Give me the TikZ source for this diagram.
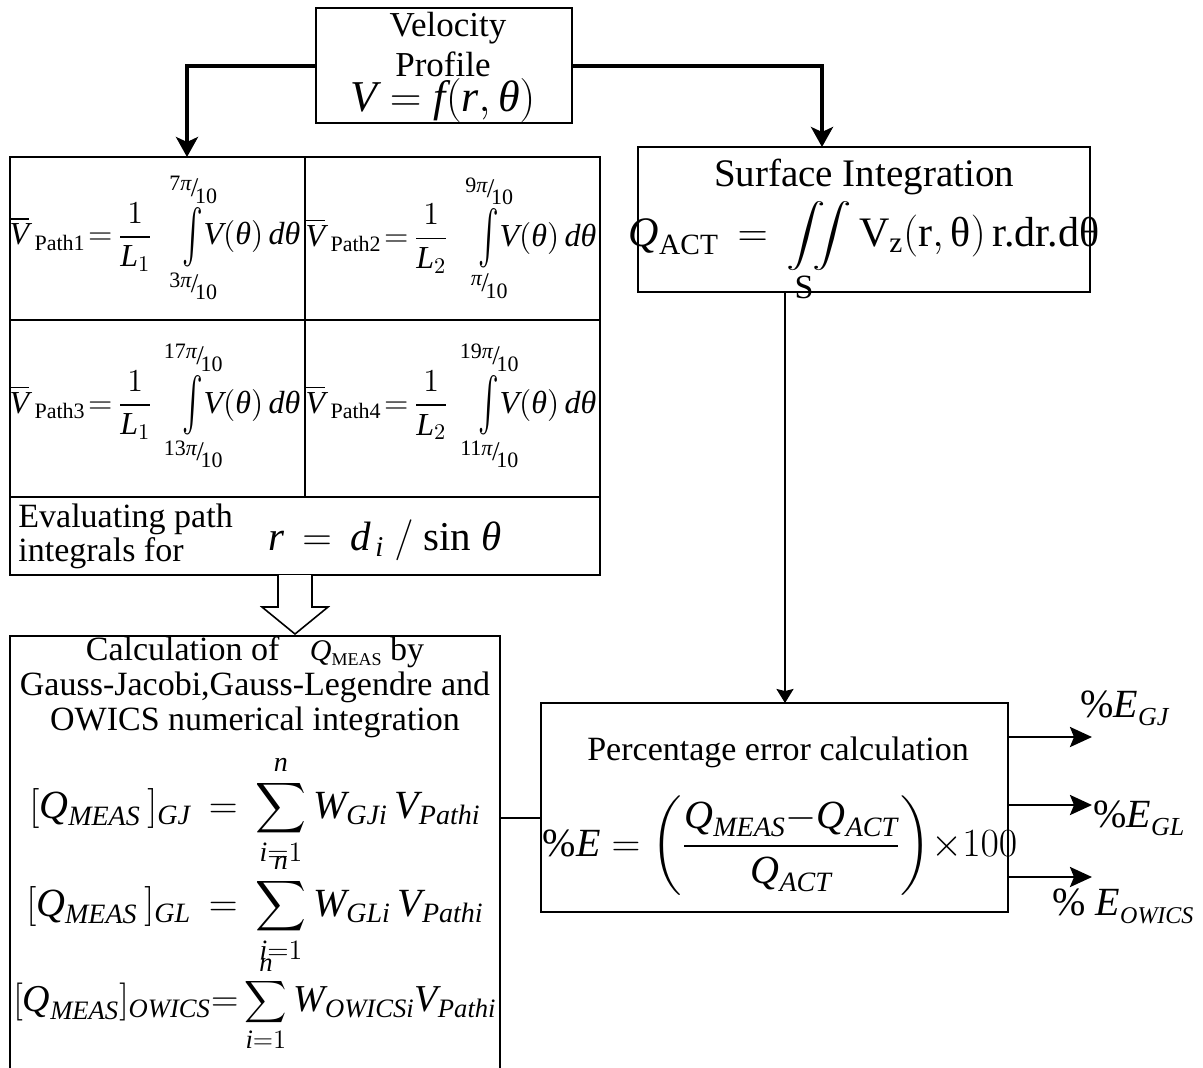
\RequirePackage{fix-cm}
\documentclass[tikz,border=0pt]{standalone}
\usepackage{amsmath,mathtools,graphicx}
\usepackage{fontspec}
\setmainfont{Liberation Serif}
\usetikzlibrary{arrows.meta,calc}
\newcommand\I[1]{\textit{#1}}
\newcommand\sfr[2]{\hbox{\raisebox{0.45ex}{\fontsize{11}{11}\selectfont #1}\kern-0.03em\raisebox{0.05ex}{\fontsize{13.5}{13.5}\selectfont /}\kern-0.1em\raisebox{-0.4ex}{\fontsize{11}{11}\selectfont #2}}}
\newcommand\myint{\mathop{\vcenter{\hbox{\scalebox{0.9}[1.55]{$\textstyle\int$}}}}}
\newcommand\myiint{\mathop{\vcenter{\hbox{\scalebox{0.95}[0.75]{$\displaystyle\iint$}}}}}
\newcommand\mysum{\mathop{\vcenter{\hbox{\scalebox{0.85}{$\displaystyle\sum$}}}}}
\newcommand\pathf[4]{$\overline{\I{V}}\,\raisebox{-0.35ex}{\fontsize{11}{11}\selectfont Path#1}\mkern2mu{=}\mkern3mu\dfrac{1}{\I{L}_{#2}}\mkern14mu\myint\limits_{\mathclap{\sfr{#4}{10}}}^{\mathclap{\sfr{#3}{10}}}\mkern-3mu\I{V}(\I{θ})\,\I{d}\I{θ}$}
\begin{document}
\begin{tikzpicture}[x=0.5pt,y=-0.5pt,
  box/.style={draw,line width=1pt,inner sep=0pt,outer sep=0pt},
  txt/.style={inner sep=0pt,font=\fontsize{17}{20}\selectfont},
  bigarrow/.style={line width=2pt,-{Stealth[length=10pt,width=11pt,inset=2.5pt]}},
  thinarrow/.style={line width=1pt,-{Stealth[length=7pt,width=8.5pt,inset=1pt]}},
  outarrow/.style={line width=1.4pt,-{Stealth[length=11pt,width=10pt,inset=2pt]}},
  plain/.style={line width=1pt}]
\useasboundingbox (0,0) rectangle (1203,1067);

% boxes
\node[box,minimum width=128pt,minimum height=57.5pt] (vp) at (443.5,65.5) {};
\node[box,minimum width=295pt,minimum height=209pt] (tab) at (305,366) {};
\node[box,minimum width=226pt,minimum height=72.5pt] (si) at (864,219.5) {};
\node[box,minimum width=245pt,minimum height=219.5pt] (calc) at (255,855.5) {};
\node[box,minimum width=233.5pt,minimum height=104.5pt] (pe) at (774.5,807.5) {};

% table grid
\draw[plain] (305,157) -- (305,497);
\draw[plain] (10,320) -- (600,320);
\draw[plain] (10,497) -- (600,497);

% velocity profile text
\node[txt,font=\fontsize{17.5}{20}\selectfont] (vp1) at (448,28) {Velocity};
\node[txt,font=\fontsize{17.5}{20}\selectfont] (vp2) at (443,64) {Profile};
\node[txt,font=\fontsize{22}{26}\selectfont] (vp3) at (443,100) {$\I{V}=\I{f}(\I{r},\I{θ})$};

% table formulas
\node[txt,font=\fontsize{16}{19}\selectfont] (c1) at (155,238) {\pathf{1}{1}{7\I{π}}{3\I{π}}};
\node[txt,font=\fontsize{16}{19}\selectfont] (c2) at (451,238) {\pathf{2}{2}{9\I{π}}{\I{π}}};
\node[txt,font=\fontsize{16}{19}\selectfont] (c3) at (155,406) {\pathf{3}{1}{17\I{π}}{13\I{π}}};
\node[txt,font=\fontsize{16}{19}\selectfont] (c4) at (451,406) {\pathf{4}{2}{19\I{π}}{11\I{π}}};
\node[txt,anchor=west,align=left,font=\fontsize{17}{17}\selectfont] (ev) at (18,536) {Evaluating path\\integrals for};
\node[txt,font=\fontsize{20.5}{24}\selectfont] (rr) at (385,540) {$\I{r}\,=\,\I{d}_{\,\I{i}}\ /\ \text{sin}\ \I{θ}$};

% surface integration
\node[txt,font=\fontsize{19.5}{22}\selectfont] (si1) at (864,177) {Surface Integration};
\node[txt,font=\fontsize{21}{24}\selectfont] (si2) at (864,236) {$\I{Q}_{\text{ACT}}\,=\,\myiint\text{V}_{\text{z}}(\text{r},\text{θ})\,\text{r.dr.dθ}$};
\node[txt,font=\fontsize{17}{20}\selectfont] (si3) at (804,287) {S};

% calculation box text
\node[txt,align=center,font=\fontsize{17}{17.5}\selectfont] (ct) at (255,687) {Calculation of\hspace{0.9em}{\fontsize{15}{15}\selectfont\I{Q}}\raisebox{-0.35ex}{\fontsize{9}{9}\selectfont MEAS} by\\Gauss-Jacobi,Gauss-Legendre and\\OWICS numerical integration};
\node[txt,font=\fontsize{20}{24}\selectfont] (f1) at (255,810) {$[\I{Q}_{\I{MEAS}}\,]_{\I{GJ}}\,=\,\mysum\limits_{\I{i}=1}^{\I{n}}\I{W}_{\I{GJi}}\,\I{V}_{\I{Pathi}}$};
\node[txt,font=\fontsize{20}{24}\selectfont] (f2) at (255,908) {$[\I{Q}_{\I{MEAS}}\,]_{\I{GL}}\,=\,\mysum\limits_{\I{i}=1}^{\I{n}}\I{W}_{\I{GLi}}\,\I{V}_{\I{Pathi}}$};
\node[txt,font=\fontsize{19}{24}\selectfont] (f3) at (255,1004) {$[\I{Q}_{\I{MEAS}}]_{\I{OWICS}}{=}\mysum\limits_{\I{i}=1}^{\I{n}}\I{W}_{\I{OWICSi}}\I{V}_{\I{Pathi}}$};

% percentage box text
\node[txt,font=\fontsize{17}{20}\selectfont] (pt) at (778,752) {Percentage error calculation};
\node[txt,font=\fontsize{20}{24}\selectfont] (pf) at (780,846) {$\text{\%}\I{E}=\left(\dfrac{\I{Q}_{\I{MEAS}}{-}\I{Q}_{\I{ACT}}}{\I{Q}_{\I{ACT}}}\right)\!{\times}100$};

% output labels
\coordinate (o1) at (1092,737);
\coordinate (o2) at (1092,805);
\coordinate (o3) at (1092,877);
\node[txt,anchor=west,font=\fontsize{20}{24}\selectfont] (l1) at (1080,708) {\%\I{E}\raisebox{-0.45ex}{\fontsize{13}{13}\selectfont\itshape GJ}};
\node[txt,anchor=west,font=\fontsize{20}{24}\selectfont] (l2) at (1093,818) {\%\I{E}\raisebox{-0.45ex}{\fontsize{13}{13}\selectfont\itshape GL}};
\node[txt,anchor=west,font=\fontsize{20}{24}\selectfont] (l3) at (1052,906) {\% \I{E}\raisebox{-0.45ex}{\fontsize{12}{12}\selectfont\itshape OWICS}};

% connectors
\draw[bigarrow] (vp.west) -| ($(tab.north west)+(177,0)$);
\draw[bigarrow] (vp.east) -| ($(si.north west)+(184,0)$);
\draw[thinarrow] ($(si.south west)+(147,0)$) -- ($(pe.north west)+(244,0)$);
\coordinate (ha) at ($(tab.south west)+(285,0)$);
\draw[line width=0.8pt,fill=white] (ha) ++(-17,0) -- ++(0,32) -- ++(-16,0) -- ++(33,27) -- ++(33,-27) -- ++(-16,0) -- ++(0,-32);
\draw[plain] ([yshift=19pt]calc.east) -- ([yshift=19pt]calc.east -| pe.west);
\draw[outarrow] (o1 -| pe.east) -- (o1);
\draw[outarrow] (o2 -| pe.east) -- (o2);
\draw[outarrow] (o3 -| pe.east) -- (o3);
\end{tikzpicture}
\end{document}
